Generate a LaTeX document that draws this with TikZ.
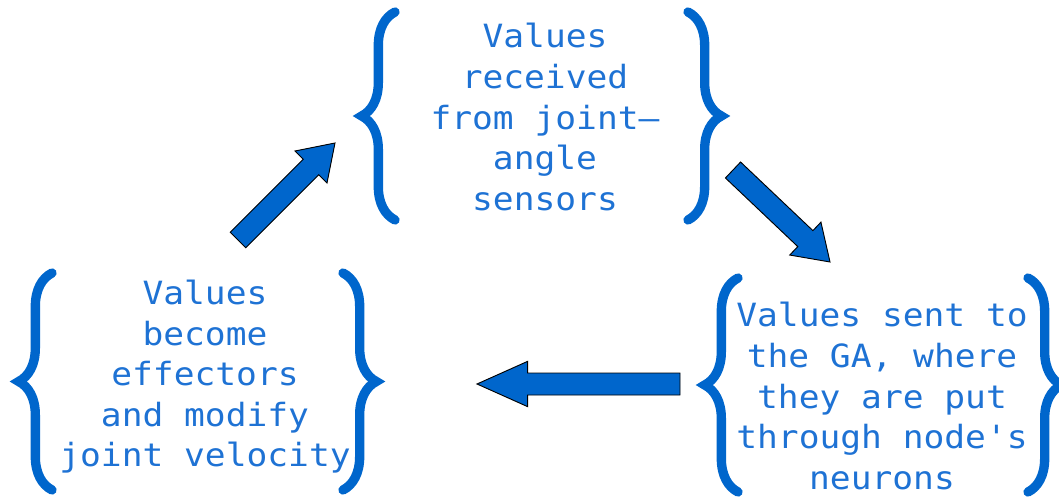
\documentclass[tikz,border=0pt]{standalone}
\usepackage{fontspec}
\newfontfamily\gulim[Ligatures=TeXOff, FakeStretch=1.08]{DejaVu Sans Mono}
\usetikzlibrary{calc, decorations.pathreplacing}
\definecolor{cblue}{HTML}{0066CC}
\definecolor{ctext}{HTML}{1E72D4}
\tikzset{
  every picture/.style={line width=0.8pt},
  stage/.style={text=ctext, align=center, inner sep=0pt,
    font=\gulim\fontsize{24}{30.4}\selectfont},
  curly/.style={draw=cblue, line width=7pt, line cap=round,
    decorate, decoration={brace, amplitude=25pt}},
  fatarrow/.style={draw=black, fill=cblue, line width=0.7pt, line join=miter},
}
% braces round a stage: node, left x, right x, bottom y, top y (offsets from its centre)
\newcommand{\bracepair}[5]{%
  \draw[curly] ([shift={(#2,#4)}]#1.center) -- ([shift={(#2,#5)}]#1.center);
  \draw[curly] ([shift={(#3,#5)}]#1.center) -- ([shift={(#3,#4)}]#1.center);
}
% block arrow: tail, tip, head length
\newcommand{\blockarrow}[3]{%
  \coordinate (hb) at ($(#2)!#3!(#1)$);
  \draw[fatarrow] ($(#1)!8.25pt!90:(#2)$) -- ($(hb)!8.25pt!90:(#2)$)
    -- ($(hb)!17pt!90:(#2)$) -- (#2) -- ($(hb)!17pt!-90:(#2)$)
    -- ($(hb)!8.25pt!-90:(#2)$) -- ($(#1)!8.25pt!-90:(#2)$) -- cycle;
}

\begin{document}
\begin{tikzpicture}[x=0.75pt, y=0.75pt]
  \useasboundingbox (0,0) rectangle (1059,500);

  \node[stage] (sense) at (545,383) {Values\\received\\from joint—\\angle\\sensors};
  \node[stage] (ga) at (882,104) {Values sent to\\the GA, where\\they are put\\through node's\\neurons};
  \node[stage] (effect) at (205,123) {Values\\become\\effectors\\and modify\\joint velocity};

  \bracepair{sense}{-150}{143}{-103}{105}
  \bracepair{ga}{-144}{146}{-96}{118}
  \bracepair{effect}{-153}{138}{-113}{104}

  \coordinate (a1s) at (238,260); \coordinate (a1e) at (335,357);
  \coordinate (a2s) at (733,330); \coordinate (a2e) at (830,238);
  \coordinate (a3s) at (680,116); \coordinate (a3e) at (477,116);
  \blockarrow{a1s}{a1e}{25.5pt}
  \blockarrow{a2s}{a2e}{25.5pt}
  \blockarrow{a3s}{a3e}{38pt}
\end{tikzpicture}
\end{document}
